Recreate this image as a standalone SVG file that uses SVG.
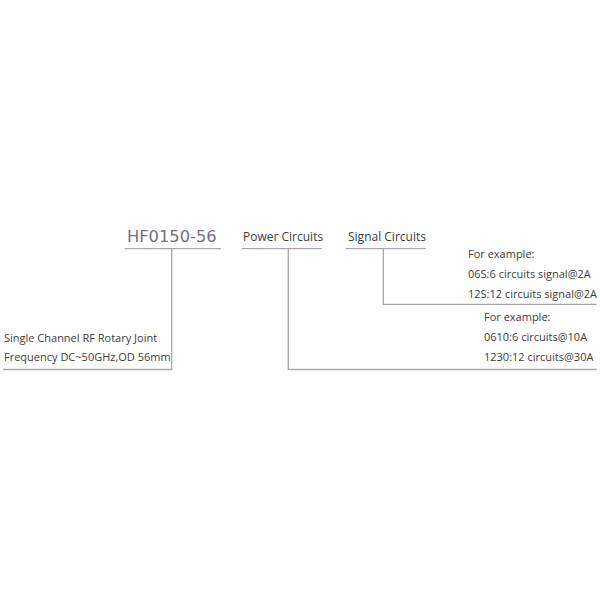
<svg xmlns="http://www.w3.org/2000/svg" width="600" height="600" viewBox="0 0 600 600">
<style>
.ln{fill:none;stroke:#a8a4ac;stroke-width:1.3}
.t{font-family:"Open Sans","Noto Sans",sans-serif;font-size:11px;fill:#3c3c3c}
.h{font-family:"Open Sans","Noto Sans",sans-serif;font-size:12px;fill:#3c3c3c}
.m{font-family:"DejaVu Sans",sans-serif;font-size:16.3px;fill:#777080}
</style>
<rect width="600" height="600" fill="#fff"/>
<g id="model">
<text class="m" x="127" y="242">HF0150-56</text>
</g>
<g id="power">
<text class="h" x="243" y="241">Power Circuits</text>
</g>
<g id="signal">
<text class="h" x="348" y="241">Signal Circuits</text>
</g>
<g id="desc">
<text class="t" x="4" y="342">Single Channel RF Rotary Joint</text>
<text class="t" x="4" y="361">Frequency DC~50GHz,OD 56mm</text>
</g>
<g id="signal-ex">
<text class="t" x="468" y="258">For example:</text>
<text class="t" x="468" y="278">06S:6 circuits signal@2A</text>
<text class="t" x="468" y="298">12S:12 circuits signal@2A</text>
</g>
<g id="power-ex">
<text class="t" x="484" y="321">For example:</text>
<text class="t" x="484" y="341">0610:6 circuits@10A</text>
<text class="t" x="484" y="361">1230:12 circuits@30A</text>
</g>
<g id="connectors">
<path class="ln" d="M125 248.7H221M171.7 248.7V369.5H3"/>
<path class="ln" d="M242 248.7H321.7M288.3 248.7V369.5H596.7"/>
<path class="ln" d="M346 248.7H425.7M383.3 248.7V304.3H596.7"/>
</g>
</svg>
